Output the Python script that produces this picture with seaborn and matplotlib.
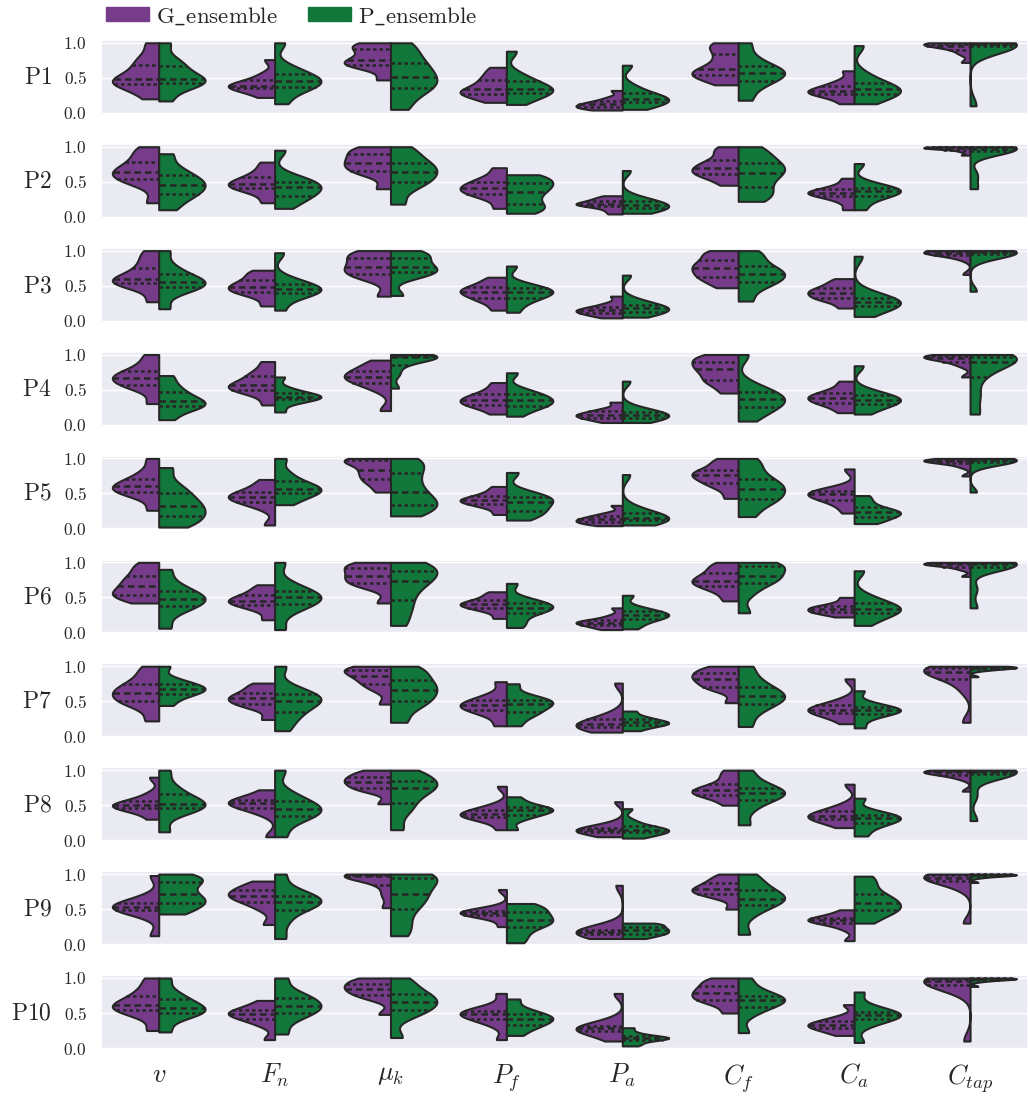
import pandas as pd
import matplotlib.pyplot as plt
import seaborn as sns
from matplotlib.patches import Patch

params = ["v", "F_n", "mu_k", "P_f", "P_a", "C_f", "C_a", "C_tap"]
param_labels = [r"$v$", r"$F_n$", r"$\mu_k$", r"$P_f$", r"$P_a$", r"$C_f$", r"$C_a$", r"$C_{tap}$"]
row_names = ["P1", "P2", "P3", "P4", "P5", "P6", "P7", "P8", "P9", "P10"]
ensembles = ["G_ensemble", "P_ensemble"]
colors = ["#763c8a", "#12773a"]

# sample values (min .. max, octile steps), one list per parameter
g_p1 = [[0.20, 0.36, 0.41, 0.45, 0.49, 0.58, 0.69, 0.80, 1.00], [0.22, 0.30, 0.35, 0.37, 0.39, 0.42, 0.47, 0.56, 0.76],
        [0.47, 0.64, 0.69, 0.72, 0.76, 0.84, 0.91, 0.97, 1.00], [0.15, 0.23, 0.27, 0.30, 0.34, 0.40, 0.47, 0.55, 0.65],
        [0.04, 0.06, 0.08, 0.10, 0.12, 0.14, 0.17, 0.22, 0.32], [0.40, 0.50, 0.54, 0.58, 0.63, 0.73, 0.84, 0.95, 1.00],
        [0.13, 0.22, 0.27, 0.29, 0.31, 0.35, 0.39, 0.46, 0.60], [0.72, 0.84, 0.90, 0.94, 0.96, 0.98, 0.99, 0.995, 1.00]]
p_p1 = [[0.17, 0.36, 0.42, 0.45, 0.49, 0.56, 0.67, 0.76, 1.00], [0.13, 0.30, 0.37, 0.42, 0.46, 0.50, 0.56, 0.66, 1.00],
        [0.05, 0.25, 0.36, 0.44, 0.51, 0.62, 0.71, 0.85, 1.00], [0.12, 0.22, 0.28, 0.31, 0.34, 0.39, 0.45, 0.55, 0.88],
        [0.05, 0.11, 0.15, 0.18, 0.20, 0.24, 0.28, 0.38, 0.68], [0.18, 0.36, 0.46, 0.52, 0.57, 0.62, 0.67, 0.80, 1.00],
        [0.13, 0.22, 0.27, 0.30, 0.34, 0.38, 0.43, 0.55, 0.96], [0.10, 0.90, 0.95, 0.97, 0.98, 0.985, 0.99, 0.995, 1.00]]

g_p2 = [[0.20, 0.46, 0.54, 0.59, 0.64, 0.70, 0.78, 0.90, 1.00], [0.20, 0.34, 0.41, 0.44, 0.47, 0.52, 0.57, 0.66, 0.78],
        [0.40, 0.60, 0.66, 0.72, 0.77, 0.83, 0.89, 0.96, 1.00], [0.12, 0.27, 0.33, 0.37, 0.41, 0.45, 0.50, 0.57, 0.70],
        [0.04, 0.10, 0.15, 0.17, 0.18, 0.20, 0.23, 0.26, 0.30], [0.45, 0.56, 0.61, 0.65, 0.70, 0.75, 0.81, 0.92, 1.00],
        [0.10, 0.22, 0.29, 0.32, 0.34, 0.36, 0.39, 0.45, 0.55], [0.88, 0.93, 0.96, 0.97, 0.98, 0.985, 0.99, 0.995, 1.00]]
p_p2 = [[0.10, 0.25, 0.33, 0.40, 0.46, 0.52, 0.59, 0.70, 0.90], [0.12, 0.24, 0.30, 0.36, 0.42, 0.46, 0.50, 0.58, 0.95],
        [0.18, 0.40, 0.50, 0.57, 0.64, 0.71, 0.77, 0.88, 1.00], [0.05, 0.12, 0.18, 0.28, 0.36, 0.43, 0.48, 0.55, 0.60],
        [0.05, 0.09, 0.12, 0.14, 0.17, 0.19, 0.22, 0.28, 0.66], [0.22, 0.32, 0.42, 0.55, 0.63, 0.70, 0.77, 0.88, 1.00],
        [0.10, 0.23, 0.30, 0.34, 0.37, 0.39, 0.41, 0.48, 0.76], [0.40, 0.60, 0.94, 0.96, 0.97, 0.98, 0.99, 0.995, 1.00]]

g_p3 = [[0.27, 0.47, 0.54, 0.56, 0.59, 0.66, 0.75, 0.87, 1.00], [0.21, 0.35, 0.41, 0.45, 0.48, 0.53, 0.58, 0.66, 0.72],
        [0.35, 0.59, 0.66, 0.71, 0.76, 0.83, 0.90, 0.96, 1.00], [0.15, 0.26, 0.32, 0.37, 0.41, 0.44, 0.48, 0.54, 0.62],
        [0.04, 0.08, 0.11, 0.13, 0.15, 0.17, 0.20, 0.25, 0.35], [0.47, 0.57, 0.63, 0.69, 0.75, 0.80, 0.86, 0.95, 1.00],
        [0.18, 0.28, 0.32, 0.36, 0.40, 0.43, 0.47, 0.53, 0.60], [0.66, 0.88, 0.94, 0.96, 0.97, 0.98, 0.99, 0.995, 1.00]]
p_p3 = [[0.17, 0.40, 0.48, 0.51, 0.55, 0.60, 0.66, 0.78, 1.00], [0.15, 0.33, 0.39, 0.42, 0.45, 0.48, 0.52, 0.60, 0.97],
        [0.36, 0.62, 0.69, 0.71, 0.76, 0.83, 0.90, 0.96, 1.00], [0.12, 0.25, 0.32, 0.37, 0.41, 0.43, 0.46, 0.52, 0.78],
        [0.05, 0.10, 0.13, 0.16, 0.18, 0.20, 0.23, 0.30, 0.65], [0.28, 0.46, 0.55, 0.61, 0.66, 0.72, 0.78, 0.90, 1.00],
        [0.06, 0.15, 0.21, 0.24, 0.26, 0.29, 0.32, 0.40, 0.92], [0.42, 0.88, 0.95, 0.97, 0.98, 0.985, 0.99, 0.995, 1.00]]

g_p4 = [[0.30, 0.50, 0.57, 0.62, 0.67, 0.71, 0.76, 0.86, 1.00], [0.28, 0.44, 0.50, 0.53, 0.56, 0.61, 0.69, 0.76, 0.90],
        [0.20, 0.50, 0.60, 0.64, 0.68, 0.72, 0.76, 0.84, 0.92], [0.15, 0.24, 0.28, 0.32, 0.35, 0.39, 0.43, 0.50, 0.60],
        [0.03, 0.07, 0.10, 0.12, 0.14, 0.16, 0.19, 0.23, 0.32], [0.45, 0.58, 0.64, 0.72, 0.79, 0.84, 0.90, 0.96, 1.00],
        [0.17, 0.26, 0.31, 0.35, 0.38, 0.42, 0.45, 0.52, 0.62], [0.68, 0.84, 0.90, 0.93, 0.95, 0.97, 0.98, 0.99, 1.00]]
p_p4 = [[0.07, 0.20, 0.26, 0.29, 0.33, 0.39, 0.46, 0.56, 0.70], [0.18, 0.31, 0.36, 0.38, 0.40, 0.42, 0.45, 0.52, 0.68],
        [0.52, 0.72, 0.85, 0.93, 0.96, 0.97, 0.98, 0.99, 1.00], [0.12, 0.23, 0.27, 0.31, 0.35, 0.39, 0.43, 0.50, 0.74],
        [0.03, 0.07, 0.10, 0.12, 0.14, 0.16, 0.18, 0.24, 0.62], [0.05, 0.18, 0.25, 0.31, 0.36, 0.41, 0.46, 0.56, 1.00],
        [0.15, 0.24, 0.30, 0.33, 0.35, 0.38, 0.42, 0.48, 0.84], [0.15, 0.42, 0.68, 0.82, 0.90, 0.94, 0.97, 0.99, 1.00]]

g_p5 = [[0.26, 0.46, 0.52, 0.56, 0.60, 0.65, 0.71, 0.82, 1.00], [0.05, 0.30, 0.38, 0.42, 0.45, 0.48, 0.52, 0.60, 0.70],
        [0.52, 0.64, 0.71, 0.78, 0.84, 0.92, 0.98, 0.99, 1.00], [0.20, 0.30, 0.35, 0.38, 0.40, 0.43, 0.46, 0.52, 0.60],
        [0.04, 0.07, 0.09, 0.11, 0.13, 0.15, 0.18, 0.22, 0.33], [0.43, 0.58, 0.65, 0.71, 0.76, 0.80, 0.83, 0.93, 1.00],
        [0.22, 0.34, 0.41, 0.45, 0.49, 0.51, 0.53, 0.58, 0.85], [0.75, 0.88, 0.93, 0.95, 0.96, 0.97, 0.98, 0.99, 1.00]]
p_p5 = [[0.02, 0.10, 0.18, 0.25, 0.32, 0.40, 0.50, 0.62, 0.87], [0.34, 0.44, 0.50, 0.54, 0.57, 0.62, 0.68, 0.80, 1.00],
        [0.18, 0.28, 0.34, 0.42, 0.52, 0.65, 0.79, 0.92, 1.00], [0.12, 0.20, 0.25, 0.31, 0.38, 0.42, 0.45, 0.52, 0.80],
        [0.05, 0.09, 0.12, 0.14, 0.15, 0.18, 0.22, 0.30, 0.77], [0.17, 0.35, 0.42, 0.50, 0.57, 0.64, 0.71, 0.86, 1.00],
        [0.07, 0.12, 0.17, 0.20, 0.23, 0.26, 0.30, 0.38, 0.47], [0.52, 0.90, 0.95, 0.97, 0.98, 0.985, 0.99, 0.995, 1.00]]

g_p6 = [[0.42, 0.50, 0.54, 0.59, 0.66, 0.73, 0.80, 0.90, 1.00], [0.18, 0.32, 0.39, 0.42, 0.45, 0.49, 0.53, 0.60, 0.68],
        [0.42, 0.64, 0.70, 0.75, 0.80, 0.86, 0.92, 0.97, 1.00], [0.20, 0.30, 0.35, 0.38, 0.40, 0.43, 0.46, 0.52, 0.58],
        [0.04, 0.07, 0.11, 0.13, 0.14, 0.16, 0.18, 0.24, 0.35], [0.45, 0.58, 0.66, 0.70, 0.74, 0.79, 0.85, 0.93, 1.00],
        [0.22, 0.27, 0.29, 0.31, 0.34, 0.36, 0.38, 0.43, 0.50], [0.80, 0.90, 0.94, 0.96, 0.97, 0.98, 0.99, 0.995, 1.00]]
p_p6 = [[0.06, 0.28, 0.38, 0.43, 0.48, 0.53, 0.59, 0.70, 0.90], [0.04, 0.30, 0.40, 0.45, 0.50, 0.54, 0.59, 0.70, 1.00],
        [0.10, 0.30, 0.46, 0.62, 0.73, 0.80, 0.88, 0.95, 1.00], [0.07, 0.16, 0.28, 0.32, 0.35, 0.39, 0.42, 0.48, 0.70],
        [0.05, 0.13, 0.19, 0.22, 0.25, 0.27, 0.30, 0.36, 0.53], [0.28, 0.55, 0.70, 0.75, 0.80, 0.87, 0.95, 0.98, 1.00],
        [0.10, 0.21, 0.27, 0.31, 0.34, 0.38, 0.42, 0.52, 0.88], [0.35, 0.62, 0.93, 0.96, 0.97, 0.98, 0.99, 0.995, 1.00]]

g_p7 = [[0.22, 0.43, 0.50, 0.56, 0.62, 0.68, 0.74, 0.86, 1.00], [0.24, 0.40, 0.46, 0.50, 0.54, 0.58, 0.62, 0.70, 0.76],
        [0.46, 0.66, 0.74, 0.80, 0.86, 0.91, 0.95, 0.98, 1.00], [0.15, 0.30, 0.37, 0.41, 0.44, 0.48, 0.52, 0.60, 0.78],
        [0.06, 0.10, 0.13, 0.15, 0.17, 0.20, 0.24, 0.32, 0.76], [0.48, 0.66, 0.71, 0.77, 0.82, 0.86, 0.90, 0.96, 1.00],
        [0.18, 0.28, 0.33, 0.36, 0.38, 0.41, 0.44, 0.52, 0.82], [0.20, 0.66, 0.82, 0.88, 0.92, 0.95, 0.97, 0.99, 1.00]]
p_p7 = [[0.44, 0.55, 0.61, 0.65, 0.68, 0.71, 0.75, 0.82, 1.00], [0.08, 0.25, 0.35, 0.46, 0.51, 0.55, 0.60, 0.70, 1.00],
        [0.20, 0.40, 0.50, 0.58, 0.66, 0.73, 0.81, 0.92, 1.00], [0.15, 0.28, 0.34, 0.40, 0.46, 0.49, 0.52, 0.58, 0.75],
        [0.08, 0.13, 0.16, 0.18, 0.20, 0.22, 0.25, 0.29, 0.36], [0.14, 0.34, 0.46, 0.52, 0.57, 0.63, 0.70, 0.82, 1.00],
        [0.12, 0.25, 0.32, 0.35, 0.37, 0.39, 0.42, 0.48, 0.65], [0.85, 0.94, 0.96, 0.97, 0.98, 0.985, 0.99, 0.995, 1.00]]

g_p8 = [[0.30, 0.42, 0.46, 0.48, 0.50, 0.53, 0.56, 0.66, 0.90], [0.05, 0.38, 0.46, 0.50, 0.53, 0.55, 0.57, 0.62, 0.72],
        [0.52, 0.70, 0.74, 0.79, 0.83, 0.87, 0.90, 0.96, 1.00], [0.15, 0.29, 0.33, 0.35, 0.37, 0.40, 0.43, 0.50, 0.77],
        [0.05, 0.09, 0.12, 0.14, 0.15, 0.16, 0.18, 0.24, 0.55], [0.50, 0.60, 0.65, 0.68, 0.71, 0.75, 0.80, 0.90, 1.00],
        [0.18, 0.26, 0.30, 0.33, 0.35, 0.38, 0.42, 0.50, 0.80], [0.70, 0.88, 0.93, 0.95, 0.97, 0.98, 0.99, 0.995, 1.00]]
p_p8 = [[0.12, 0.38, 0.46, 0.49, 0.52, 0.58, 0.66, 0.78, 1.00], [0.05, 0.27, 0.35, 0.40, 0.45, 0.50, 0.56, 0.68, 1.00],
        [0.15, 0.40, 0.53, 0.66, 0.74, 0.79, 0.84, 0.93, 1.00], [0.15, 0.30, 0.36, 0.40, 0.43, 0.45, 0.47, 0.53, 0.62],
        [0.03, 0.08, 0.11, 0.13, 0.15, 0.17, 0.20, 0.28, 0.45], [0.22, 0.44, 0.57, 0.62, 0.67, 0.71, 0.75, 0.85, 1.00],
        [0.06, 0.17, 0.24, 0.27, 0.31, 0.34, 0.36, 0.42, 0.60], [0.28, 0.64, 0.94, 0.96, 0.97, 0.98, 0.99, 0.995, 1.00]]

g_p9 = [[0.12, 0.42, 0.49, 0.51, 0.53, 0.56, 0.59, 0.68, 0.98], [0.28, 0.50, 0.60, 0.65, 0.69, 0.73, 0.77, 0.83, 0.90],
        [0.52, 0.70, 0.84, 0.93, 0.97, 0.98, 0.99, 1.00, 1.00], [0.25, 0.38, 0.42, 0.44, 0.45, 0.46, 0.47, 0.52, 0.78],
        [0.08, 0.12, 0.15, 0.17, 0.18, 0.19, 0.20, 0.25, 0.84], [0.50, 0.66, 0.72, 0.75, 0.78, 0.82, 0.87, 0.93, 1.00],
        [0.05, 0.22, 0.30, 0.32, 0.34, 0.36, 0.37, 0.42, 0.49], [0.30, 0.80, 0.90, 0.93, 0.95, 0.97, 0.98, 0.99, 1.00]]
p_p9 = [[0.43, 0.52, 0.59, 0.64, 0.71, 0.80, 0.89, 0.94, 1.00], [0.08, 0.32, 0.49, 0.56, 0.60, 0.64, 0.69, 0.77, 1.00],
        [0.12, 0.30, 0.50, 0.62, 0.71, 0.82, 0.94, 0.98, 1.00], [0.02, 0.14, 0.25, 0.30, 0.34, 0.40, 0.46, 0.52, 0.58],
        [0.08, 0.12, 0.15, 0.17, 0.20, 0.22, 0.25, 0.28, 0.30], [0.14, 0.42, 0.56, 0.61, 0.65, 0.71, 0.77, 0.88, 1.00],
        [0.30, 0.42, 0.48, 0.53, 0.59, 0.65, 0.72, 0.85, 0.97], [0.88, 0.95, 0.97, 0.98, 0.985, 0.99, 0.995, 1.00, 1.00]]

g_p10 = [[0.25, 0.46, 0.54, 0.57, 0.61, 0.67, 0.74, 0.85, 1.00], [0.12, 0.33, 0.41, 0.45, 0.49, 0.51, 0.54, 0.60, 0.68],
         [0.48, 0.70, 0.76, 0.80, 0.85, 0.88, 0.92, 0.98, 1.00], [0.12, 0.33, 0.41, 0.45, 0.49, 0.51, 0.53, 0.60, 0.78],
         [0.10, 0.18, 0.24, 0.26, 0.28, 0.30, 0.32, 0.40, 0.78], [0.50, 0.63, 0.69, 0.73, 0.78, 0.83, 0.88, 0.95, 1.00],
         [0.18, 0.24, 0.28, 0.31, 0.33, 0.36, 0.39, 0.45, 0.62], [0.10, 0.82, 0.90, 0.94, 0.96, 0.97, 0.98, 0.99, 1.00]]
p_p10 = [[0.23, 0.43, 0.50, 0.53, 0.57, 0.63, 0.70, 0.80, 1.00], [0.20, 0.40, 0.50, 0.55, 0.60, 0.66, 0.72, 0.80, 1.00],
         [0.15, 0.45, 0.54, 0.60, 0.66, 0.72, 0.77, 0.88, 1.00], [0.18, 0.28, 0.33, 0.38, 0.42, 0.45, 0.49, 0.56, 0.70],
         [0.03, 0.07, 0.12, 0.13, 0.14, 0.16, 0.17, 0.22, 0.29], [0.22, 0.48, 0.59, 0.64, 0.69, 0.72, 0.74, 0.85, 1.00],
         [0.08, 0.32, 0.41, 0.44, 0.47, 0.50, 0.52, 0.60, 0.80], [0.88, 0.95, 0.97, 0.98, 0.985, 0.99, 0.995, 1.00, 1.00]]

g_rows = [g_p1, g_p2, g_p3, g_p4, g_p5, g_p6, g_p7, g_p8, g_p9, g_p10]
p_rows = [p_p1, p_p2, p_p3, p_p4, p_p5, p_p6, p_p7, p_p8, p_p9, p_p10]

sns.set_theme(style="darkgrid")
plt.rcParams["font.family"] = ["DejaVu Serif"]
plt.rcParams["mathtext.fontset"] = "cm"

fig, axes = plt.subplots(10, 1, figsize=(10.28, 10.96), dpi=100, sharex=True)
fig.subplots_adjust(left=0.098, right=1.0, top=0.9635, bottom=0.0425, hspace=0.40)

for i, ax in enumerate(axes):
    recs = []
    for j, p in enumerate(params):
        for v in g_rows[i][j]:
            recs.append({"param": p, "ens": ensembles[0], "value": v})
        for v in p_rows[i][j]:
            recs.append({"param": p, "ens": ensembles[1], "value": v})
    df = pd.DataFrame(recs)
    sns.violinplot(data=df, x="param", y="value", hue="ens", order=params, hue_order=ensembles,
                   split=True, inner="quart", cut=0, density_norm="width", bw_adjust=0.65,
                   palette=colors, saturation=1, linewidth=1.5, linecolor="#262626",
                   inner_kws={"linewidth": 1.8}, legend=False, ax=ax)
    # quartile lines: short dashes, median: longer dashes
    for k, ln in enumerate(ax.lines):
        ln.set_dashes((2.6, 1.6) if k % 3 == 1 else (1.4, 1.2))
    ax.set_ylim(-0.02, 1.04)
    ax.set_yticks([0, 0.5, 1.0])
    ax.set_yticklabels([r"$0.0$", r"$0.5$", r"$1.0$"], fontsize=12.5)
    ax.tick_params(axis="y", length=0, pad=10)
    ax.tick_params(axis="x", length=0)
    ax.set_xlabel("")
    ax.set_ylabel("")
    ax.text(-0.053, 0.49, r"$\mathrm{" + row_names[i] + "}$", transform=ax.transAxes,
            fontsize=17, ha="right", va="center")

axes[-1].set_xticks(range(len(params)))
axes[-1].set_xticklabels(param_labels, fontsize=19)
axes[-1].tick_params(axis="x", length=0, pad=9)

handles = [Patch(facecolor=c, edgecolor=c) for c in colors]
fig.legend(handles, [r"$\mathrm{G\_ensemble}$", r"$\mathrm{P\_ensemble}$"], loc="upper left",
           bbox_to_anchor=(0.083, 1.014), ncol=2, frameon=False, fontsize=16.5,
           handlelength=1.9, handleheight=0.6, columnspacing=1.3, handletextpad=0.3)

fig.savefig("out.png", dpi=100)
